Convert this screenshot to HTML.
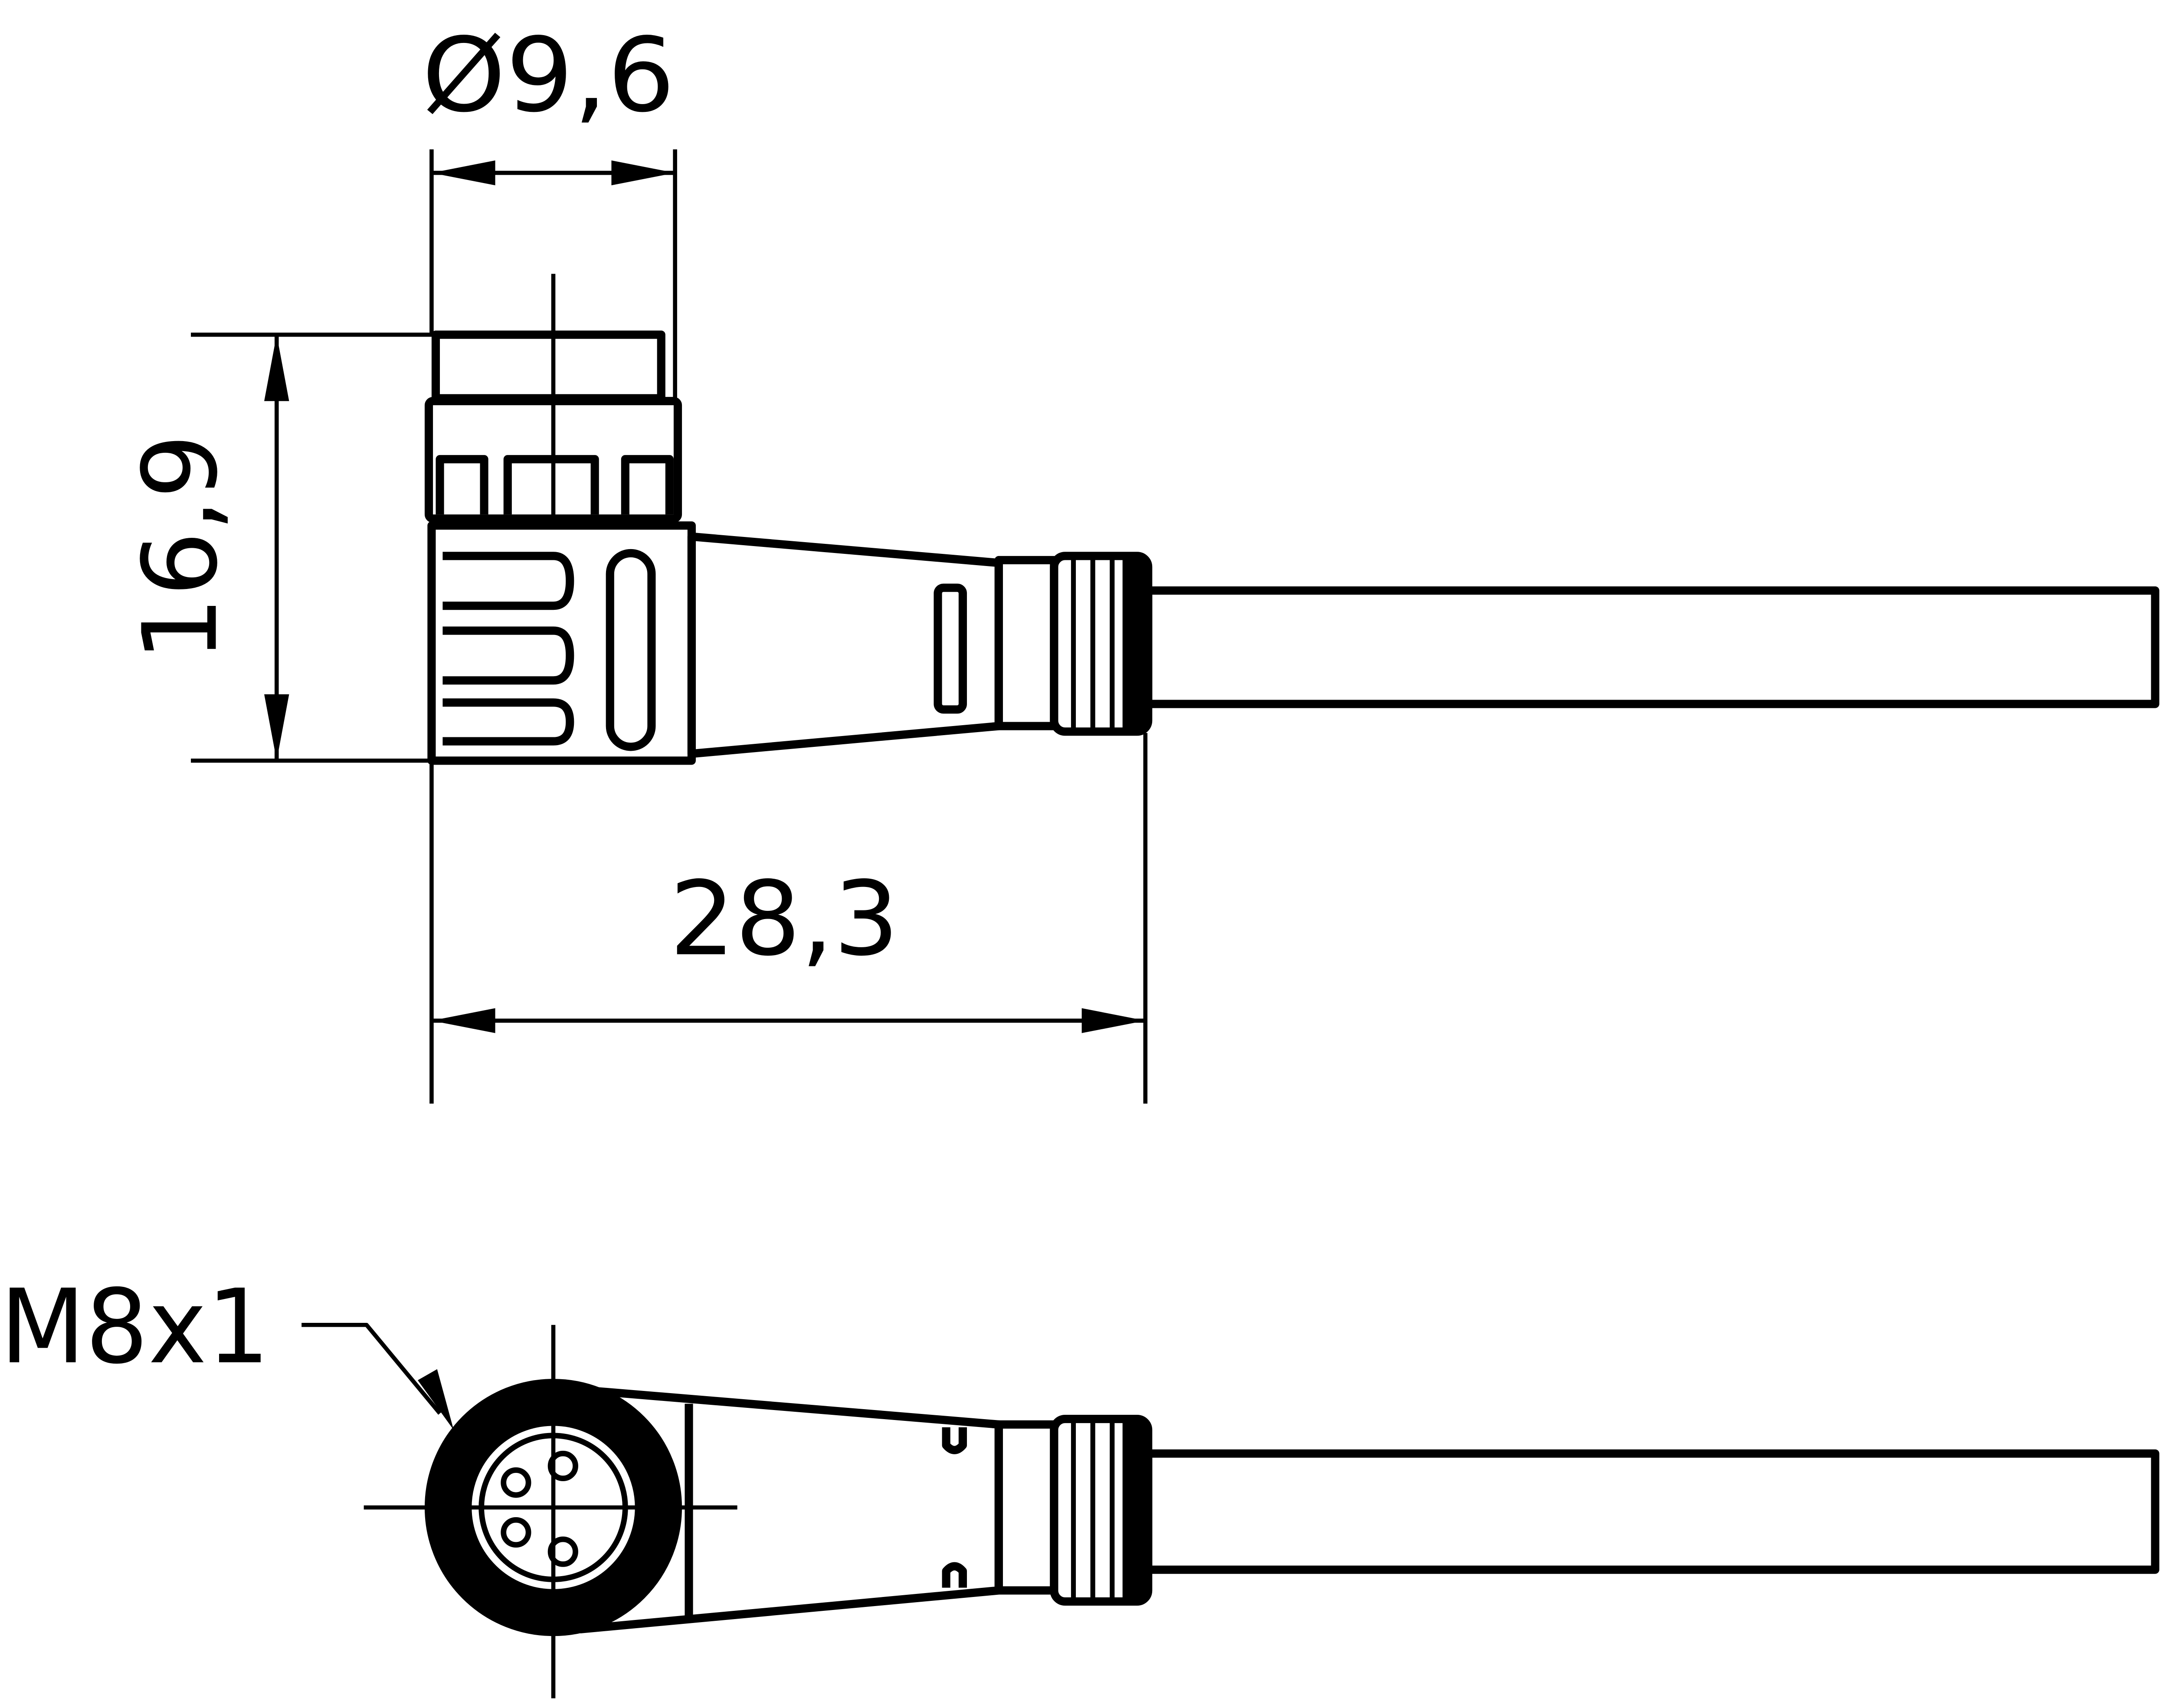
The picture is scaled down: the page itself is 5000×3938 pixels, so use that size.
<!DOCTYPE html>
<html><head><meta charset="utf-8"><style>
html,body{margin:0;padding:0;background:#fff;}
svg{display:block;}
text{font-family:"DejaVu Sans","Liberation Sans",sans-serif;fill:#000;}
</style></head><body>
<svg width="5000" height="3938" viewBox="0 0 1568 1235" preserveAspectRatio="none" xmlns="http://www.w3.org/2000/svg">
<g fill="none" stroke="#000" stroke-linejoin="round">
<g stroke-width="3">
<line x1="312" y1="108" x2="312" y2="242"/>
<line x1="488" y1="108" x2="488" y2="290"/>
<line x1="312" y1="125" x2="488" y2="125"/>
<line x1="400" y1="198" x2="400" y2="378"/>
<line x1="138" y1="242" x2="315" y2="242"/>
<line x1="138" y1="550" x2="315" y2="550"/>
<line x1="200" y1="242" x2="200" y2="550"/>
<line x1="312" y1="550" x2="312" y2="798"/>
<line x1="828" y1="530" x2="828" y2="798"/>
<line x1="312" y1="738" x2="828" y2="738"/>
<line x1="400" y1="958" x2="400" y2="1228"/>
<line x1="263" y1="1090" x2="533" y2="1090"/>
<polyline points="218,958 265,958 318,1022"/>
</g>
<g fill="#000" stroke="none">
<polygon points="312,125 358,116 358,134"/>
<polygon points="488,125 442,116 442,134"/>
<polygon points="200,242 191,290 209,290"/>
<polygon points="200,550 191,502 209,502"/>
<polygon points="312,738 358,729 358,747"/>
<polygon points="828,738 782,729 782,747"/>
<polygon points="328,1034 302,998 316,990"/>
</g>
<g stroke-width="6">
<rect x="315" y="242" width="163" height="46"/>
<rect x="310" y="290" width="180" height="85" rx="3"/>
<path d="M318,372 V332 H350 V372"/>
<path d="M367,372 V332 H430 V372"/>
<path d="M452,372 V332 H484 V372"/>
<rect x="312" y="380" width="188" height="170"/>
<path d="M320,402 H400 Q412,402 412,420 Q412,438 400,438 H320"/>
<path d="M320,456 H400 Q412,456 412,474 Q412,492 400,492 H320"/>
<path d="M320,508 H400 Q412,508 412,522 Q412,536 400,536 H320"/>
<rect x="441" y="400" width="30" height="140" rx="15"/>
<polygon points="500,388 722,407 722,525 500,545"/>
<rect x="678" y="425" width="18" height="88" rx="4"/>
<rect x="722" y="405" width="40" height="120"/>
<rect x="762" y="402" width="68" height="127" rx="8"/>
<rect x="830" y="427" width="728" height="82"/>
</g>
<g stroke-width="3.5">
<line x1="776" y1="402" x2="776" y2="529"/>
<line x1="790" y1="402" x2="790" y2="529"/>
<line x1="804" y1="402" x2="804" y2="529"/>
</g>
<rect x="812" y="404" width="18" height="123" fill="#000"/>
<g stroke-width="6">
<polygon points="420,1005 722,1030 722,1150 420,1178"/>
<line x1="498" y1="1015" x2="498" y2="1170"/>
<path d="M684,1032 V1045 Q690,1052 696,1045 V1032"/>
<path d="M684,1148 V1136 Q690,1129 696,1136 V1148"/>
<rect x="722" y="1030" width="40" height="120"/>
<rect x="762" y="1026" width="68" height="132" rx="8"/>
<rect x="830" y="1051" width="728" height="84"/>
</g>
<g stroke-width="3.5">
<line x1="776" y1="1026" x2="776" y2="1158"/>
<line x1="790" y1="1026" x2="790" y2="1158"/>
<line x1="804" y1="1026" x2="804" y2="1158"/>
</g>
<rect x="812" y="1028" width="18" height="128" fill="#000"/>
<circle cx="400" cy="1090" r="76" stroke-width="34" fill="#fff"/>
<g stroke-width="4">
<circle cx="400" cy="1090" r="52"/>
<circle cx="373" cy="1072" r="9"/>
<circle cx="407" cy="1060" r="9"/>
<circle cx="373" cy="1108" r="9"/>
<circle cx="407" cy="1122" r="9"/>
</g>
<g stroke-width="3">
<line x1="400" y1="1020" x2="400" y2="1160"/>
<line x1="340" y1="1090" x2="460" y2="1090"/>
</g>
</g>
<text x="305" y="80" font-size="74" textLength="183" lengthAdjust="spacingAndGlyphs">Ø9,6</text>
<text x="484" y="690" font-size="74" textLength="166" lengthAdjust="spacingAndGlyphs">28,3</text>
<text x="0" y="985" font-size="74" textLength="195" lengthAdjust="spacingAndGlyphs">M8x1</text>
<text transform="translate(156,396) rotate(-90)" text-anchor="middle" font-size="74">16,9</text>
</svg>
</body></html>
